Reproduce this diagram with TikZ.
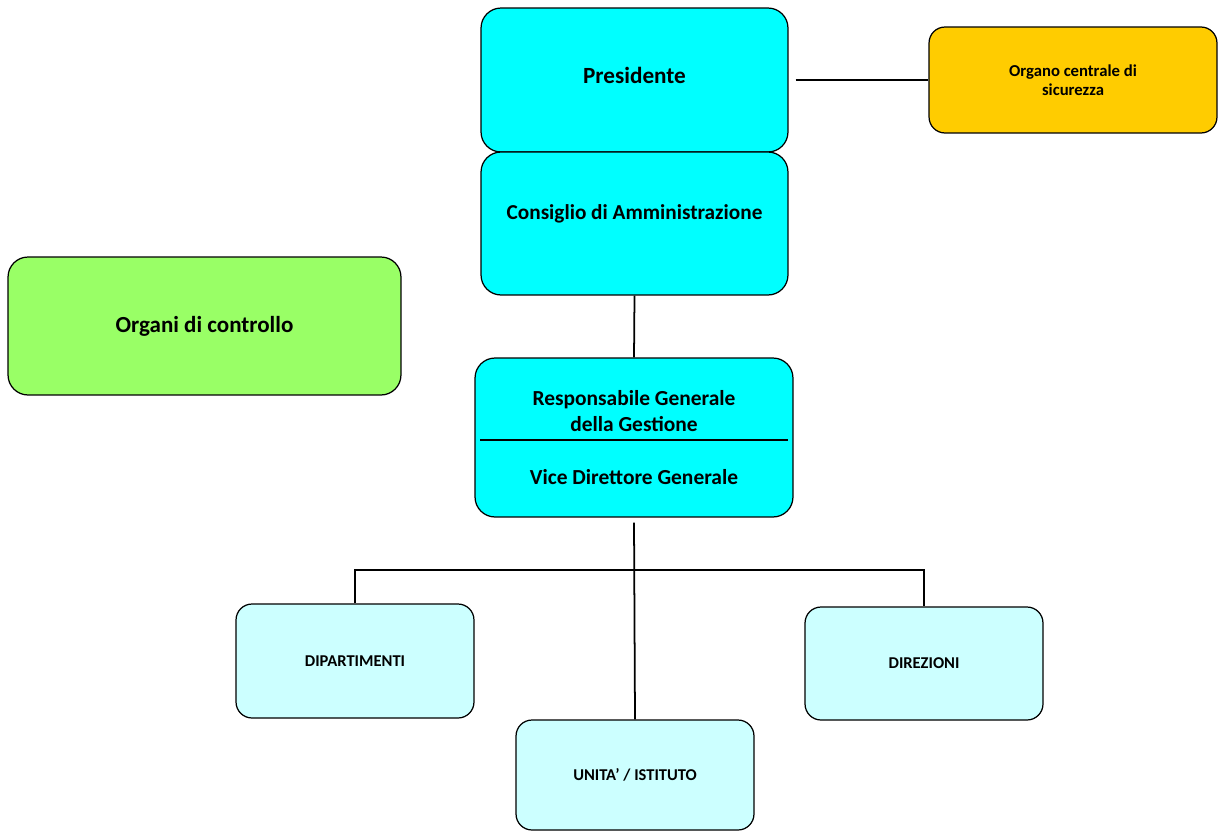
\documentclass[tikz,border=0pt]{standalone}
\usepackage{fontspec}
\setmainfont{Carlito}
\definecolor{aqua}{HTML}{00FFFF}
\definecolor{paleaqua}{HTML}{CCFFFF}
\definecolor{gold}{HTML}{FFCC00}
\definecolor{lime}{HTML}{99FF66}
\begin{document}
\begin{tikzpicture}[x=0.02cm,y=-0.02cm,
		box/.style={draw,rectangle,rounded corners=0.4cm,line width=0.7pt,inner sep=0pt,align=center,font=\bfseries\fontsize{12.1}{15}\selectfont},
		small/.style={box,rounded corners=0.32cm,fill=paleaqua,minimum width=4.76cm,font=\bfseries\fontsize{9.4}{11}\selectfont},
		link/.style={line width=1pt}]
			\useasboundingbox (0,0) rectangle (1219,832);

			\node[box,fill=aqua,minimum width=6.14cm,minimum height=2.88cm,text depth=0.2cm,font=\bfseries\fontsize{13.2}{16}\selectfont] (pres) at (634.5,80) {Presidente};
			\node[box,fill=aqua,minimum width=6.14cm,minimum height=2.86cm,text depth=0.46cm] (cda) at (634.5,223.5) {Consiglio di Amministrazione};
			\node[box,fill=gold,minimum width=5.76cm,minimum height=2.12cm,rounded corners=0.32cm,font=\bfseries\fontsize{9.5}{11}\selectfont] (ocs) at (1073,80) {Organo centrale di\\sicurezza};
			\node[box,fill=lime,minimum width=7.86cm,minimum height=2.76cm,font=\bfseries\fontsize{13.1}{16}\selectfont] (odc) at (204.5,326) {Organi di controllo};

			\node[box,fill=aqua,minimum width=6.36cm,minimum height=3.18cm] (rgg) at (634,437.5) {};
			\node[font=\bfseries\fontsize{12.2}{14.5}\selectfont,align=center,inner sep=0pt] (rggtop) at (634,411) {Responsabile Generale\\della Gestione};
			\node[font=\bfseries\fontsize{12.2}{14.5}\selectfont,inner sep=0pt] (rggbot) at (634,477) {Vice Direttore Generale};
			\draw[line width=0.8pt] ([xshift=0.12cm,yshift=-0.05cm]rgg.west) -- ([xshift=-0.12cm,yshift=-0.05cm]rgg.east);

			\node[small,minimum height=2.28cm] (dip) at (355,661) {DIPARTIMENTI};
			\node[small,minimum height=2.26cm] (dir) at (924,663.5) {DIREZIONI};
			\node[small,minimum height=2.20cm] (uni) at (635,775) {UNITA' / ISTITUTO};

			\coordinate (bus) at (635,570);
			\draw[link] ([xshift=0.14cm]pres.east) -- (ocs.west);
			\draw[link] (cda.south) -- (rgg.north);
			\draw[link] ([yshift=-0.1cm]rgg.south) -- (uni.north);
			\draw[link] (dip.north) -- (dip.north |- bus) -- (dir.north |- bus) -- (dir.north);
		\end{tikzpicture}
\end{document}
